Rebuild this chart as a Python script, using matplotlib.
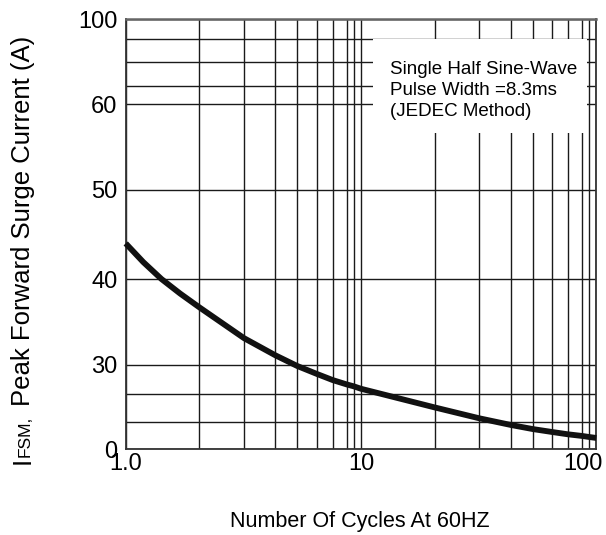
import numpy as np
import matplotlib
matplotlib.use("Agg")
import matplotlib.pyplot as plt
from matplotlib.patches import Rectangle
from matplotlib.transforms import ScaledTranslation

plt.rcParams['font.family'] = ['Liberation Sans', 'DejaVu Sans']

# data (at the grid crossings of the graph paper)
cycles = [1, 1.18, 1.4, 1.67, 2, 3, 4, 5, 6, 7, 8, 9, 10, 20, 30, 40, 50, 60, 70, 80, 90, 100]
current = [44.0, 41.9, 40.0, 38.3, 36.7, 33.1, 31.1, 29.55, 26.8, 24.7, 23.2, 22.55, 21.7,
           15.2, 11.4, 9.0, 7.5, 6.4, 5.55, 4.95, 4.55, 4.2]

y_ticks = [0, 30, 40, 50, 60, 100]
y_minor = [10, 20, 70, 80, 90]
x_ticks = [1, 10, 100]
x_ticklabels = ['1.0', '10', '100']
x_minor = [2, 3, 4, 5, 6, 7, 8, 9, 20, 30, 40, 50, 60, 70, 80, 90]

# graph-paper rulings of the original (non-uniform scales)
y_break_vals = np.array([0, 10, 20, 30, 40, 50, 60, 70, 80, 90, 100], dtype=float)
y_break_pos = np.array([0, 27, 55.6, 84.6, 170.3, 259.3, 345, 363, 387, 410, 430], dtype=float)
x_break_vals = np.array([1, 2, 3, 4, 5, 6, 7, 8, 9, 10, 20, 30, 40, 50, 60, 70, 80, 90, 100], dtype=float)
x_break_pos = np.array([0, 73.6, 118.3, 149.6, 171.6, 191.3, 207, 221, 228, 235.3,
                        309, 353.6, 385.3, 407, 426.6, 442.3, 456.3, 463.6, 470.6])
x_break_log = np.log10(x_break_vals)


def yfwd(v):
    return np.interp(v, y_break_vals, y_break_pos)


def yinv(p):
    return np.interp(p, y_break_pos, y_break_vals)


def xfwd(v):
    v = np.clip(np.asarray(v, dtype=float), 1e-6, None)
    return np.interp(np.log10(v), x_break_log, x_break_pos)


def xinv(p):
    return 10 ** np.interp(p, x_break_pos, x_break_log)


fig = plt.figure(figsize=(6.06, 5.35), dpi=100)
ax = fig.add_axes([125.7/606, 1 - 449.3/535, (596.3-125.7)/606, (449.3-19.3)/535])

ax.set_xscale('function', functions=(xfwd, xinv))
ax.set_yscale('function', functions=(yfwd, yinv))
ax.set_xlim(1, 100)
ax.set_ylim(0, 100)

ax.set_xticks(x_ticks)
ax.set_xticklabels(x_ticklabels)
ax.set_xticks(x_minor, minor=True)
ax.set_xticklabels([], minor=True)
ax.set_yticks(y_ticks)
ax.set_yticklabels([str(v) for v in y_ticks])
ax.set_yticks(y_minor, minor=True)
ax.set_yticklabels([], minor=True)

ax.tick_params(which='both', length=0)
ax.tick_params(axis='x', labelsize=17, pad=3)
ax.tick_params(axis='y', labelsize=17, pad=6)
# last x label sits inside the figure edge, as in the reference
lab = ax.get_xticklabels()[-1]
lab.set_horizontalalignment('right')
lab.set_transform(lab.get_transform() + ScaledTranslation(6/100, 0, fig.dpi_scale_trans))

ax.grid(True, which='both', color='#1a1a1a', linewidth=1.0)
for s in ax.spines.values():
    s.set_color('#333333')
    s.set_linewidth(1.3)
ax.spines['top'].set_color('#666666')
ax.spines['top'].set_linewidth(1.8)

ax.plot(cycles, current, color='#111111', linewidth=4.2, solid_capstyle='butt',
        solid_joinstyle='round', zorder=4, clip_on=False)

ax.add_patch(Rectangle((0.5255, 0.7356), 0.98 - 0.5255, 0.954 - 0.7356,
                       transform=ax.transAxes, facecolor='white', edgecolor='none', zorder=2))
ax.text(0.5616, 0.903, 'Single Half Sine-Wave\nPulse Width =8.3ms\n(JEDEC Method)',
        transform=ax.transAxes, ha='left', va='top', fontsize=13.5, linespacing=1.3, zorder=3)

fig.text(360/606, 1 - 522/535, 'Number Of Cycles At 60HZ', ha='center', va='center',
         fontsize=15.5)

# rotated y label built from pieces: big "I", small "FSM,", then the rest
renderer = fig.canvas.get_renderer()
base_x = 30.0
y0 = 535 - 464.0
pieces = [('I', 18.5, 0), ('FSM,', 12.5, 0), ('Peak Forward Surge Current (A)', 18.5, 10)]
for txt, size, gap in pieces:
    y0 += gap
    t = fig.text(base_x / 606, y0 / 535, txt, rotation=90, rotation_mode='anchor',
                 ha='left', va='baseline', fontsize=size, transform=fig.transFigure)
    bb = t.get_window_extent(renderer)
    y0 += bb.height

fig.savefig('out.png', dpi=100)
